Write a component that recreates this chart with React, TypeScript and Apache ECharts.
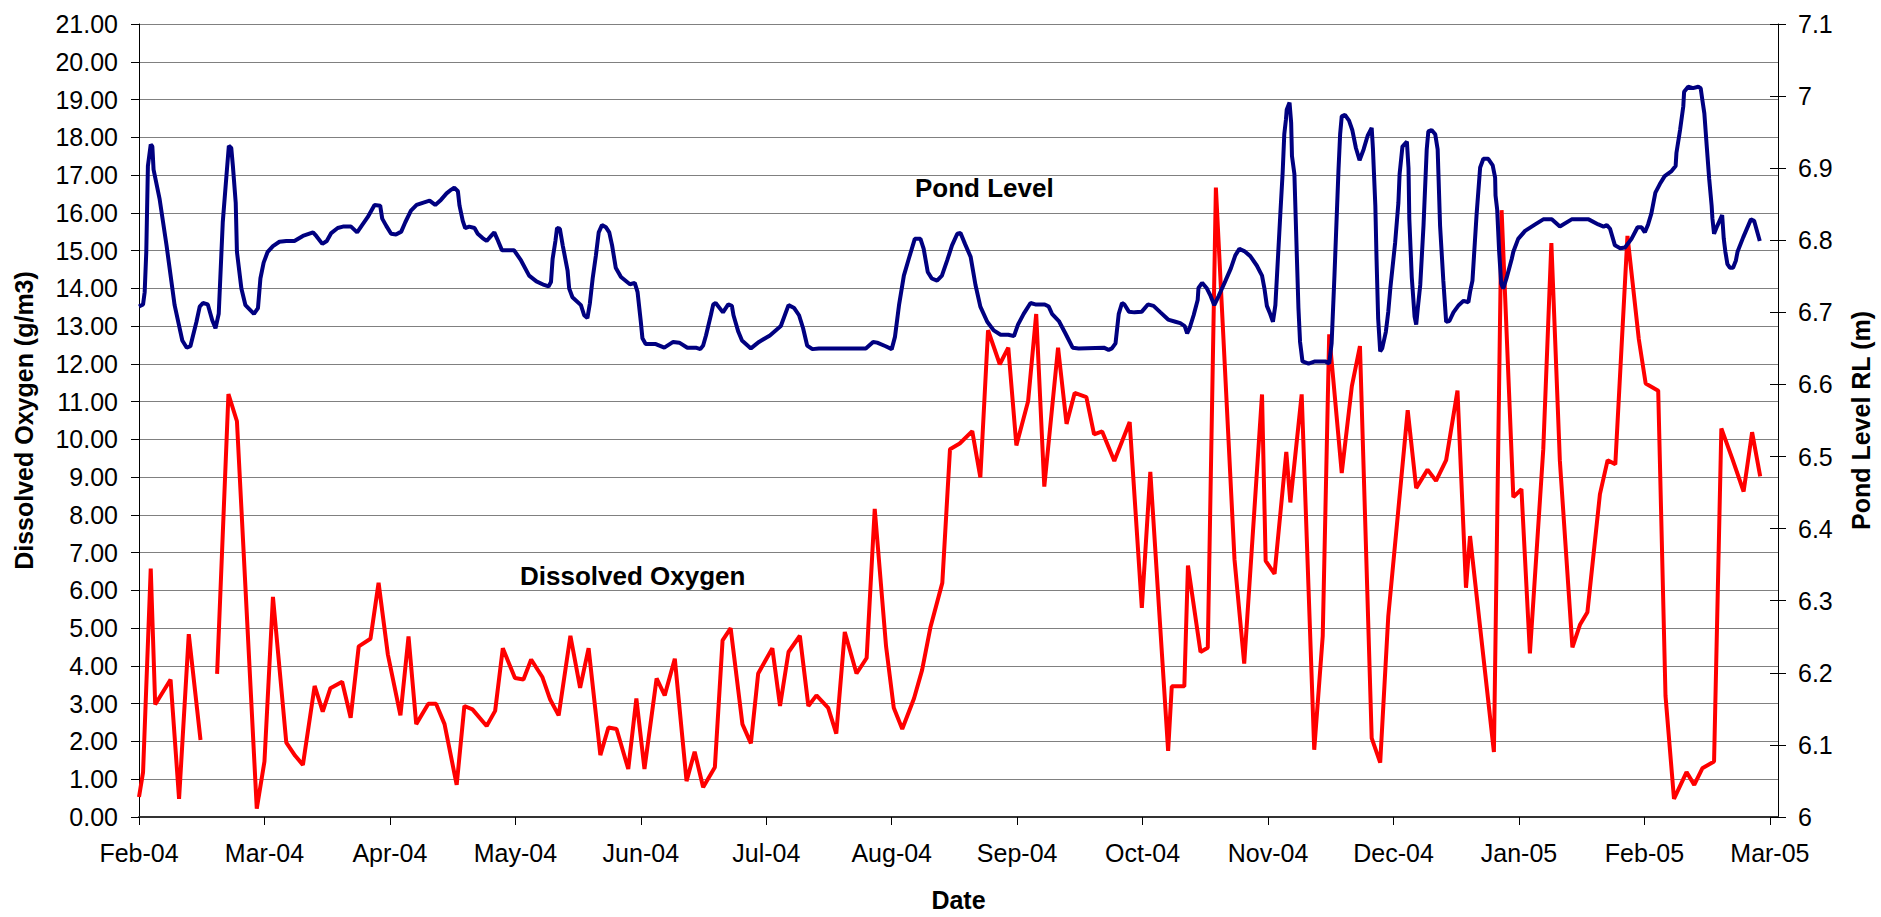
import React, { useEffect, useRef } from 'react';
import * as echarts from 'echarts';

// x values are days since 1 Feb 2004 (Excel date axis, major unit 31 days)
const tickLabels = ['Feb-04', 'Mar-04', 'Apr-04', 'May-04', 'Jun-04', 'Jul-04', 'Aug-04', 'Sep-04', 'Oct-04', 'Nov-04', 'Dec-04', 'Jan-05', 'Feb-05', 'Mar-05'];

// Dissolved Oxygen (g/m3); null = missing sample (gap)
const doDays = [
  0, 1, 2.9, 4, 7.8, 9.9, 12.3, 15.2, 17, 19.3, 22.1, 24.2, 29.1, 31, 33.1, 36.4, 38.6, 40.5, 43.4, 45.4,
  47.3, 50.2, 52.3, 54.3, 57.2, 59.2, 61.5, 64.6, 66.6, 68.5, 71.5, 73.4, 75.5, 78.5, 80.4, 82.4, 85.9, 88, 89.9, 92.9,
  95, 96.9, 99.7, 101.6, 103.7, 106.6, 109, 111.1, 114, 116, 118, 120.9, 122.9, 124.9, 127.9, 129.9, 132.4, 135.3, 137.3, 139.4,
  142.3, 144.2, 146.2, 149.1, 151.2, 153, 156.5, 158.4, 160.5, 163.3, 165.4, 167.4, 170.3, 172.3, 174.4, 177.3, 179.8, 181.8, 184.6, 186.5,
  188.6, 191.5, 193.5, 195.6, 198.5, 200.4, 202.8, 205.9, 207.9, 209.8, 212.7, 214.8, 216.8, 219.7, 221.7, 223.7, 227.1, 229.2, 231.2, 234.1,
  236, 238, 241, 244.8, 247.8, 249.9, 254.3, 255.2, 258.3, 259.2, 262.3, 264.1, 266.1, 270.7, 273.1, 277.5, 278.4, 280.6, 283.5, 284.5,
  287.3, 290.4, 292.5, 294.1, 297.2, 299.7, 301.7, 304.6, 306.7, 308.7, 313.5, 315.6, 318.4, 320.5, 323, 325.8, 327.9, 328.9, 334.8, 336.7,
  339.6, 341.6, 343.7, 347, 349, 351.1, 354.2, 356.1, 357.9, 361, 362.9, 364.8, 367.8, 370.6, 372.3, 375.4, 377.2, 379.3, 382.4, 384.3,
  386.3, 389.2, 391, 393.7, 396.5, 398.6, 400.6,
];
const doValues = [
  0.53, 1.18, 6.58, 2.98, 3.64, 0.48, 4.84, 2.04, null, 3.79, 11.2, 10.48, 0.22, 1.47, 5.83, 1.97, 1.62, 1.38, 3.47, 2.79,
  3.41, 3.58, 2.63, 4.52, 4.72, 6.2, 4.3, 2.69, 4.78, 2.46, 3.0, 3.0, 2.46, 0.85, 2.94, 2.85, 2.41, 2.81, 4.47, 3.68,
  3.64, 4.17, 3.7, 3.11, 2.69, 4.8, 3.42, 4.47, 1.64, 2.37, 2.33, 1.27, 3.14, 1.27, 3.67, 3.22, 4.19, 0.95, 1.73, 0.79,
  1.32, 4.68, 5.0, 2.46, 1.95, 3.8, 4.47, 2.94, 4.37, 4.8, 2.94, 3.22, 2.89, 2.21, 4.9, 3.8, 4.21, 8.16, 4.52, 2.89,
  2.33, 3.14, 3.89, 5.04, 6.2, 9.74, 9.89, 10.22, 8.99, 12.89, 11.99, 12.43, 9.84, 11.01, 13.32, 8.75, 12.43, 10.41, 11.23, 11.12,
  10.13, 10.21, 9.43, 10.46, 5.54, 9.14, 1.75, 3.46, 3.46, 6.66, 4.37, 4.48, 16.67, 6.82, 4.06, 11.19, 6.78, 6.44, 9.67, 8.33,
  11.19, 1.78, 4.79, 12.78, 9.11, 11.41, 12.47, 2.09, 1.44, 5.32, 10.77, 8.71, 9.2, 8.9, 9.45, 11.29, 6.07, 7.44, 1.72, 16.07,
  8.47, 8.68, 4.33, 9.74, 15.2, 9.43, 4.49, 5.1, 5.42, 8.55, 9.45, 9.34, 15.39, 12.66, 11.48, 11.29, 3.21, 0.48, 1.19, 0.85,
  1.29, 1.47, 10.29, 9.49, 8.62, 10.19, 9.02,
];

// Pond Level RL (m)
const levelDays = [
  0, 1, 1.4, 1.8, 2.2, 2.9, 3.3, 3.6, 5.1, 6.8, 8.8, 10.7, 11.8, 12.7, 14.2, 15, 15.8, 17, 18.1, 18.9,
  19.7, 20.7, 21.6, 22.2, 22.8, 23.2, 23.9, 24.2, 25.3, 26.3, 28.4, 29.4, 30, 30.8, 31.8, 33.1, 34.7, 36.4, 38.4, 40.5,
  43, 43.8, 45.3, 46.4, 47.5, 49.1, 50.4, 52.4, 53.9, 55, 56.5, 58.2, 59.6, 60.1, 61.1, 62.3, 63.5, 64.8, 65.8, 67.2,
  68.6, 70.1, 71.8, 73.2, 74.6, 76, 77.1, 77.9, 78.8, 79.2, 80, 80.6, 81.6, 82.9, 83.7, 84.9, 85.9, 87, 87.8, 88.5,
  89.7, 91.1, 92.7, 94.4, 96.4, 98.2, 100.1, 101.2, 101.8, 102.2, 102.9, 103.3, 104, 104.7, 105.9, 106.3, 107.1, 109.2, 110, 110.8,
  111.4, 112.1, 112.9, 113.6, 114.4, 115.4, 116.2, 116.9, 117.8, 119.1, 121.3, 122.5, 123.2, 124, 124.4, 125.2, 127.7, 129.8, 132, 133.5,
  135.5, 137.6, 138.7, 139.4, 140.1, 141.3, 141.9, 142.5, 144.3, 145.6, 146.5, 146.9, 148.1, 149, 151.2, 153.2, 155.9, 158.6, 160.5, 161.9,
  163.1, 164.1, 165.1, 166.4, 168, 179.6, 181.4, 182.4, 184.5, 186, 186.8, 187.8, 189, 190.2, 191.7, 193.1, 193.9, 194.9, 195.9, 197.2,
  198.4, 199.7, 200.9, 202.2, 203, 204.1, 205.5, 206.7, 207.9, 209.6, 211.2, 212.9, 214.8, 216.2, 217.2, 218.6, 220.3, 221.5, 223.8, 224.8,
  225.6, 227.3, 228.9, 230.7, 232.2, 238.4, 239.6, 240.4, 241.3, 242.1, 242.9, 243.5, 244.6, 246, 247.8, 249.3, 250.7, 252.4, 254.3, 256.1,
  257.3, 258.4, 259, 259.6, 260.6, 261.6, 261.8, 262.7, 263.9, 264.7, 265.7, 266.8, 268.4, 269.8, 270.9, 271.9, 273.1, 274.6, 276.2, 277.5,
  278.1, 278.7, 279.5, 280.2, 280.8, 281.2, 282, 282.6, 283, 283.4, 283.6, 284.3, 284.7, 284.9, 285.5, 286.1, 286.5, 286.9, 287.5, 289,
  290.6, 293.1, 294.1, 294.7, 295.4, 296.4, 296.8, 297.2, 298, 299, 299.8, 300.7, 301.6, 302.6, 303.6, 304.6, 304.9, 305.5, 305.8, 306.2,
  306.7, 307.2, 308.1, 308.7, 309.2, 310.4, 311.2, 311.5, 312.2, 313.3, 313.7, 313.9, 314.5, 315.2, 315.6, 316, 316.6, 317.4, 318.2, 318.6,
  319.4, 320.3, 320.9, 321.5, 322.3, 322.8, 323, 323.8, 324.8, 326.1, 327.3, 328.5, 328.9, 329.5, 330.5, 331.4, 332.2, 333.4, 334.5, 335.1,
  335.2, 335.6, 336.1, 336.6, 337.1, 337.9, 339.2, 339.6, 340.8, 342.5, 345, 347, 349.1, 351.1, 354, 358.2, 360.6, 361.9, 362.7, 363.5,
  364.7, 366, 367.2, 368.8, 370.3, 371.3, 372.1, 372.9, 373.7, 374.7, 375.8, 377, 378.7, 379.7, 379.9, 380.8, 381.6, 381.8, 382.8, 384,
  385.3, 385.9, 386.3, 386.8, 387.4, 388, 388.6, 388.8, 389.2, 390, 391.2, 391.6, 392, 392.5, 393.1, 393.9, 394.6, 395, 396.4, 398.3,
  399.1, 400.5,
];
const levelValues = [
  6.708, 6.711, 6.728, 6.784, 6.903, 6.933, 6.930, 6.898, 6.857, 6.793, 6.710, 6.661, 6.651, 6.653, 6.687, 6.708, 6.713, 6.711, 6.689, 6.678,
  6.698, 6.825, 6.889, 6.931, 6.928, 6.903, 6.852, 6.784, 6.733, 6.710, 6.698, 6.706, 6.747, 6.769, 6.784, 6.792, 6.798, 6.799, 6.799, 6.806,
  6.811, 6.806, 6.795, 6.799, 6.810, 6.817, 6.819, 6.819, 6.811, 6.820, 6.832, 6.849, 6.848, 6.830, 6.820, 6.809, 6.808, 6.812, 6.825, 6.841,
  6.849, 6.852, 6.855, 6.849, 6.856, 6.865, 6.870, 6.873, 6.868, 6.848, 6.827, 6.817, 6.819, 6.817, 6.809, 6.803, 6.799, 6.806, 6.811, 6.802,
  6.786, 6.786, 6.786, 6.772, 6.751, 6.743, 6.738, 6.736, 6.742, 6.774, 6.799, 6.817, 6.816, 6.793, 6.758, 6.733, 6.721, 6.710, 6.696, 6.692,
  6.712, 6.747, 6.779, 6.811, 6.821, 6.818, 6.811, 6.793, 6.762, 6.749, 6.739, 6.741, 6.728, 6.687, 6.664, 6.656, 6.656, 6.651, 6.659, 6.658,
  6.651, 6.651, 6.649, 6.654, 6.668, 6.696, 6.711, 6.713, 6.700, 6.711, 6.709, 6.696, 6.673, 6.661, 6.650, 6.659, 6.668, 6.681, 6.710, 6.706,
  6.696, 6.678, 6.654, 6.649, 6.650, 6.650, 6.659, 6.658, 6.653, 6.649, 6.666, 6.710, 6.751, 6.774, 6.802, 6.802, 6.788, 6.756, 6.747, 6.744,
  6.751, 6.772, 6.793, 6.809, 6.810, 6.795, 6.777, 6.738, 6.708, 6.687, 6.675, 6.669, 6.669, 6.667, 6.683, 6.698, 6.713, 6.711, 6.711, 6.708,
  6.698, 6.688, 6.671, 6.651, 6.650, 6.651, 6.648, 6.650, 6.657, 6.698, 6.713, 6.711, 6.701, 6.700, 6.701, 6.711, 6.709, 6.700, 6.690, 6.687,
  6.685, 6.681, 6.671, 6.678, 6.696, 6.717, 6.734, 6.741, 6.733, 6.724, 6.710, 6.723, 6.743, 6.761, 6.779, 6.788, 6.785, 6.778, 6.765, 6.751,
  6.733, 6.709, 6.698, 6.687, 6.710, 6.751, 6.834, 6.894, 6.947, 6.967, 6.981, 6.991, 6.963, 6.917, 6.892, 6.779, 6.706, 6.659, 6.632, 6.629,
  6.632, 6.632, 6.629, 6.657, 6.751, 6.898, 6.947, 6.972, 6.974, 6.966, 6.953, 6.928, 6.911, 6.926, 6.945, 6.956, 6.928, 6.848, 6.774, 6.691,
  6.646, 6.650, 6.673, 6.701, 6.733, 6.797, 6.852, 6.892, 6.930, 6.937, 6.900, 6.829, 6.749, 6.694, 6.683, 6.706, 6.738, 6.820, 6.926, 6.951,
  6.953, 6.947, 6.926, 6.820, 6.744, 6.703, 6.687, 6.688, 6.700, 6.710, 6.716, 6.714, 6.728, 6.744, 6.834, 6.901, 6.913, 6.913, 6.904, 6.887,
  6.862, 6.843, 6.784, 6.740, 6.733, 6.747, 6.774, 6.784, 6.802, 6.813, 6.822, 6.829, 6.829, 6.819, 6.829, 6.829, 6.822, 6.819, 6.821, 6.816,
  6.793, 6.789, 6.790, 6.802, 6.818, 6.818, 6.811, 6.822, 6.837, 6.866, 6.878, 6.889, 6.896, 6.903, 6.921, 6.953, 6.986, 7.006, 7.013, 7.011,
  7.013, 7.011, 6.995, 6.976, 6.930, 6.885, 6.848, 6.830, 6.809, 6.820, 6.835, 6.802, 6.784, 6.767, 6.762, 6.762, 6.772, 6.784, 6.804, 6.829,
  6.827, 6.799,
];

const FONT = "'Liberation Sans', Arial, sans-serif";

export default function App() {
  const ref = useRef<HTMLDivElement>(null);

  useEffect(() => {
    if (!ref.current) return;
    const chart = echarts.init(ref.current, null, { renderer: 'svg' });

    const doData = doDays.map((d, i) => [d, doValues[i] === null ? '-' : doValues[i]]);
    const levelData = levelDays.map((d, i) => [d, levelValues[i]]);

    const labelStyle = { color: '#000', fontFamily: FONT, fontSize: 25 };
    const nameStyle = { color: '#000', fontFamily: FONT, fontSize: 25, fontWeight: 'bold' as const };

    chart.setOption({
      animation: false,
      backgroundColor: '#fff',
      grid: { left: 139, right: 99, top: 24, bottom: 95, containLabel: false },
      xAxis: {
        type: 'value',
        min: 0,
        max: 405,
        interval: 31,
        name: 'Date',
        nameLocation: 'middle',
        nameGap: 70,
        nameTextStyle: nameStyle,
        axisLine: { show: true, onZero: false, lineStyle: { color: '#333', width: 2 } },
        axisTick: { show: true, length: 8, lineStyle: { color: '#000' } },
        axisLabel: {
          ...labelStyle,
          margin: 23,
          showMaxLabel: false,
          formatter: (v: number) => {
            const k = Math.round(v / 31);
            return Math.abs(v - k * 31) < 1e-6 && tickLabels[k] ? tickLabels[k] : '';
          },
        },
        splitLine: { show: false },
      },
      yAxis: [
        {
          type: 'value',
          min: 0,
          max: 21,
          interval: 1,
          position: 'left',
          name: 'Dissolved Oxygen (g/m3)',
          nameLocation: 'middle',
          nameRotate: 90,
          nameGap: 103,
          nameTextStyle: nameStyle,
          axisLine: { show: true, lineStyle: { color: '#000', width: 1 } },
          axisTick: { show: true, length: 8, lineStyle: { color: '#000' } },
          axisLabel: { ...labelStyle, margin: 21, formatter: (v: number) => v.toFixed(2) },
          splitLine: { show: true, lineStyle: { color: '#808080', width: 1 } },
        },
        {
          type: 'value',
          min: 6,
          max: 7.1,
          interval: 0.1,
          position: 'right',
          name: 'Pond Level RL (m)',
          nameLocation: 'middle',
          nameRotate: 90,
          nameGap: 70,
          nameTextStyle: nameStyle,
          axisLine: { show: true, lineStyle: { color: '#000', width: 1 } },
          axisTick: { show: true, length: 8, lineStyle: { color: '#000' } },
          axisLabel: { ...labelStyle, margin: 20, formatter: (v: number) => String(+v.toFixed(1)) },
          splitLine: { show: false },
        },
        {
          type: 'value',
          min: 6,
          max: 7.1,
          interval: 0.1,
          position: 'right',
          axisLine: { show: false },
          axisTick: { show: true, inside: true, length: 8, lineStyle: { color: '#000' } },
          axisLabel: { show: false },
          splitLine: { show: false },
        },
      ],
      graphic: [
        {
          type: 'text',
          left: 915,
          top: 175,
          style: { text: 'Pond Level', font: `bold 26px ${FONT}`, fill: '#000' },
          z: 100,
        },
        {
          type: 'text',
          left: 520,
          top: 563,
          style: { text: 'Dissolved Oxygen', font: `bold 26px ${FONT}`, fill: '#000' },
          z: 100,
        },
      ],
      series: [
        {
          name: 'Dissolved Oxygen',
          type: 'line',
          xAxisIndex: 0,
          yAxisIndex: 0,
          data: doData,
          showSymbol: false,
          symbol: 'none',
          connectNulls: false,
          lineStyle: { color: '#FF0000', width: 4 },
          itemStyle: { color: '#FF0000' },
        },
        {
          name: 'Pond Level',
          type: 'line',
          xAxisIndex: 0,
          yAxisIndex: 1,
          data: levelData,
          showSymbol: false,
          symbol: 'none',
          lineStyle: { color: '#000080', width: 4 },
          itemStyle: { color: '#000080' },
        },
      ],
    });

    return () => chart.dispose();
  }, []);

  return (
    <div
      ref={ref}
      style={{ position: 'absolute', left: 0, top: 0, width: 1881, height: 917, background: '#fff' }}
    />
  );
}
